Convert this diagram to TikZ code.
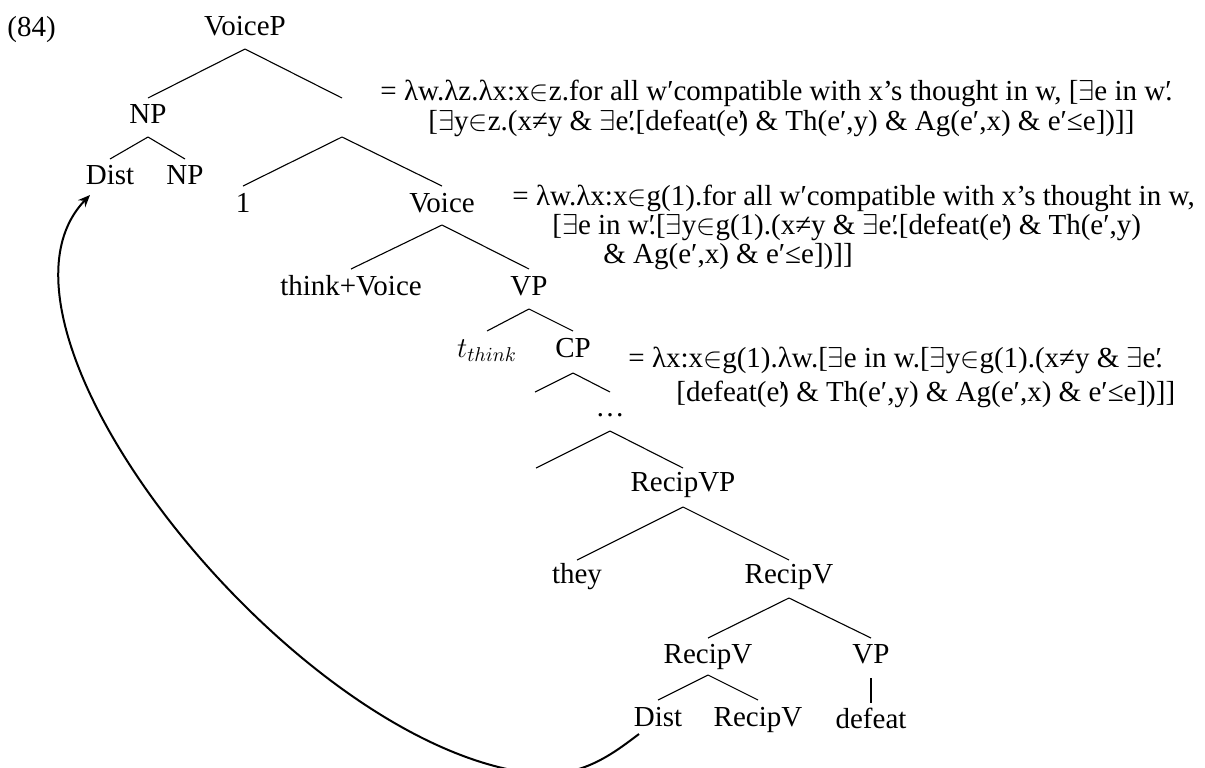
\documentclass[tikz,border=0pt]{standalone}
\usepackage{fontspec}
\setmainfont{Liberation Serif}
\usetikzlibrary{arrows.meta}
% primes: an ordinary one, and one set over the next character
\newcommand{\tprime}{′}
\newcommand{\oprime}{\rlap{′}}
\newcommand{\isin}{$\in$}
\newcommand{\exist}{$\exists$}
\begin{document}
\begin{tikzpicture}[x=0.5pt,y=-0.5pt,
  lbl/.style={anchor=base,inner sep=0pt,font=\fontsize{14.5}{17}\selectfont},
  formula/.style={anchor=base west,inner sep=0pt,font=\fontsize{14.5}{17}\selectfont},
  branch/.style={line width=0.55pt},
  unary/.style={line width=1pt},
  movearrow/.style={line width=1pt,-{Stealth[length=6pt,width=5pt,inset=2pt]}}]
\useasboundingbox (0,0) rectangle (1205,767);
\clip (0,0) rectangle (1205,767);

% example number
\node[formula] (ex) at (7,36) {(84)};

% tree labels (placed on their baselines)
\node[lbl] (voicep) at (245,35) {VoiceP};
\node[lbl] (np) at (148,123) {NP};
\coordinate (vbar) at (342,123);
\node[lbl] (dist) at (110,184) {Dist};
\node[lbl] (npb) at (185,184) {NP};
\node[lbl] (one) at (243,212) {1};
\node[lbl] (voice) at (442,212) {Voice};
\node[lbl] (thinkv) at (351,295) {think+Voice};
\node[lbl] (vp) at (529,295) {VP};
\node[lbl] (trace) at (487,357) {$t_{think}$};
\node[lbl] (cp) at (573,357) {CP};
\coordinate (cpl) at (535,417);
\node[lbl] (dots) at (610,416) {\ldots};
\coordinate (dotl) at (536,493);
\node[lbl] (recipvp) at (683,491) {RecipVP};
\node[lbl] (they) at (577,583) {they};
\node[lbl] (recipv) at (789,583) {RecipV};
\node[lbl] (recipvb) at (708,663) {RecipV};
\node[lbl] (vpb) at (871,663) {VP};
\node[lbl] (distb) at (658,726) {Dist};
\node[lbl] (recipvc) at (758,726) {RecipV};
\node[lbl] (defeat) at (871,728) {defeat};

% branches
\draw[branch] ([yshift=-7pt]voicep.base) -- ([yshift=12.5pt]np.base);
\draw[branch] ([yshift=-7pt]voicep.base) -- ([yshift=12.5pt]vbar);
\draw[branch] ([yshift=-7pt]np.base) -- ([yshift=12.5pt]dist.base);
\draw[branch] ([yshift=-7pt]np.base) -- ([yshift=12.5pt]npb.base);
\draw[branch] ([yshift=-7pt]vbar) -- ([yshift=13pt]one.base);
\draw[branch] ([yshift=-7pt]vbar) -- ([yshift=13pt]voice.base);
\draw[branch] ([yshift=-6.5pt]voice.base) -- ([yshift=13pt]thinkv.base);
\draw[branch] ([yshift=-6.5pt]voice.base) -- ([yshift=13pt]vp.base);
\draw[branch] ([yshift=-7pt]vp.base) -- ([yshift=13pt]trace.base);
\draw[branch] ([yshift=-7pt]vp.base) -- ([yshift=13pt]cp.base);
\draw[branch] ([yshift=-8pt]cp.base) -- ([yshift=12.5pt]cpl);
\draw[branch] ([yshift=-8pt]cp.base) -- ([yshift=12pt]dots.base);
\draw[branch] ([yshift=-7.5pt]dots.base) -- ([yshift=12.5pt]dotl);
\draw[branch] ([yshift=-7.5pt]dots.base) -- ([yshift=11.5pt]recipvp.base);
\draw[branch] ([yshift=-8pt]recipvp.base) -- ([yshift=11.5pt]they.base);
\draw[branch] ([yshift=-8pt]recipvp.base) -- ([yshift=11.5pt]recipv.base);
\draw[branch] ([yshift=-7.5pt]recipv.base) -- ([yshift=12.5pt]recipvb.base);
\draw[branch] ([yshift=-7.5pt]recipv.base) -- ([yshift=12.5pt]vpb.base);
\draw[branch] ([yshift=-6pt]recipvb.base) -- ([yshift=13pt]distb.base);
\draw[branch] ([yshift=-6pt]recipvb.base) -- ([yshift=13pt]recipvc.base);
\draw[unary] ([yshift=-7.5pt]vpb.base) -- ([yshift=12.5pt]defeat.base);

% denotations
\node[formula] (f1a) at (380,100) {= λw.λz.λx:x\isin z.for all w\tprime{}compatible with x’s thought in w, [\exist e in w\oprime.};
\node[formula] (f1b) at (428,130) {[\exist y\isin z.(x≠y \& \exist e\oprime.[defeat(e\oprime) \& Th(e\tprime,y) \& Ag(e\tprime,x) \& e\tprime≤e])]]};
\node[formula] (f2a) at (512,205) {= λw.λx:x\isin g(1).for all w\tprime{}compatible with x’s thought in w,};
\node[formula] (f2b) at (552,234) {[\exist e in w\oprime.[\exist y\isin g(1).(x≠y \& \exist e\oprime.[defeat(e\oprime) \& Th(e\tprime,y)};
\node[formula] (f2c) at (603,263) {\& Ag(e\tprime,x) \& e\tprime≤e])]]};
\node[formula] (f3a) at (628,367) {= λx:x\isin g(1).λw.[\exist e in w.[\exist y\isin g(1).(x≠y \& \exist e\oprime.};
\node[formula] (f3b) at (676,401) {[defeat(e\oprime) \& Th(e\tprime,y) \& Ag(e\tprime,x) \& e\tprime≤e])]]};

% movement arrow from the lower Dist up to the higher one
\draw[movearrow] ([xshift=-9.5pt,yshift=-4pt]distb.base)
  .. controls (615,752) and (585,776) .. (540,774)
  .. controls (300,755) and (-40,330) .. ([xshift=-10pt,yshift=-5.5pt]dist.base);
\end{tikzpicture}
\end{document}
